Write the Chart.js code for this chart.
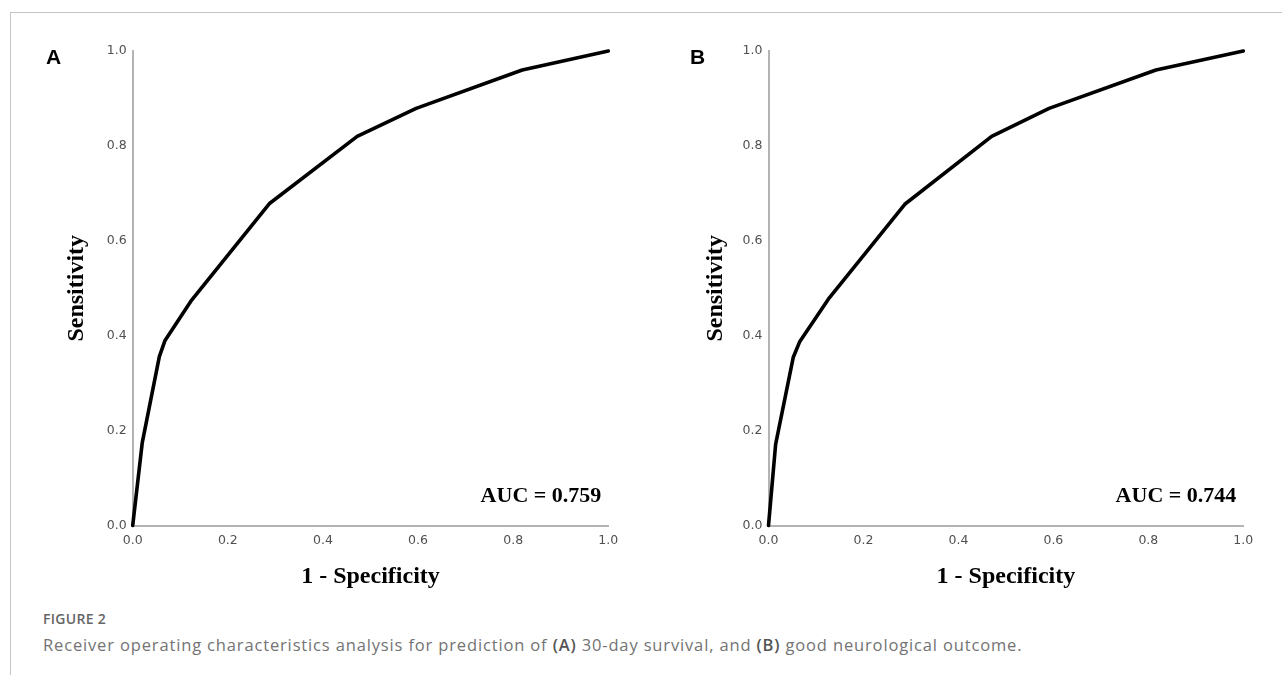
<!DOCTYPE html>
<html>
<head>
<meta charset="utf-8">
<script src="https://cdn.jsdelivr.net/npm/chart.js@4.4.1/dist/chart.umd.min.js"></script>
<style>
  html, body { margin: 0; padding: 0; background: #fff; }
  body { width: 1282px; height: 675px; position: relative; overflow: hidden; }
  .frame-top { position: absolute; left: 10px; top: 12px; width: 1272px; height: 1px; background: #c4c4c4; }
  .frame-left { position: absolute; left: 10px; top: 12px; width: 1px; height: 663px; background: #c4c4c4; }
  .wrap { position: absolute; top: 0; width: 640px; height: 600px; }
  .panel { position: absolute; top: 46px; font: bold 21px "Liberation Sans", Arial, sans-serif; line-height: 1; color: #000; }
  .figlabel { position: absolute; left: 43px; top: 612px; font: 600 14px "Open Sans", sans-serif; line-height: 1; color: #666; letter-spacing: 0.3px; }
  .caption { position: absolute; left: 43px; top: 637px; font: 16.5px "Open Sans", sans-serif; line-height: 1; color: #737373; white-space: nowrap; letter-spacing: 0.85px; }
  .caption b { font-weight: 600; color: #555; }
</style>
</head>
<body>
<div class="frame-top"></div>
<div class="frame-left"></div>
<div class="wrap" style="left:0px"><canvas id="chartA" width="640" height="600"></canvas></div>
<div class="wrap" style="left:640px"><canvas id="chartB" width="640" height="600"></canvas></div>
<div class="panel" style="left:46px">A</div>
<div class="panel" style="left:690px">B</div>
<div class="figlabel">FIGURE 2</div>
<div class="caption">Receiver operating characteristics analysis for prediction of <b>(A)</b> 30-day survival, and <b>(B)</b> good neurological outcome.</div>
<script>
// ---- data ----
const fprA = [0, 0.02, 0.056, 0.068, 0.124, 0.287, 0.472, 0.596, 0.819, 1.0];
const tprA = [0, 0.174, 0.356, 0.39, 0.475, 0.678, 0.820, 0.879, 0.960, 1.0];
const fprB = [0, 0.015, 0.052, 0.066, 0.126, 0.287, 0.470, 0.591, 0.816, 1.0];
const tprB = [0, 0.171, 0.354, 0.388, 0.477, 0.677, 0.820, 0.879, 0.960, 1.0];
const aucA = "AUC = 0.759";
const aucB = "AUC = 0.744";
const xTicks = [0, 0.2, 0.4, 0.6, 0.8, 1.0];
const yTicks = [0, 0.2, 0.4, 0.6, 0.8, 1.0];
const xTitle = "1 - Specificity";
const yTitle = "Sensitivity";

const aucPlugin = {
  id: 'aucText',
  afterDraw(chart, args, opts) {
    const { ctx, chartArea } = chart;
    ctx.save();
    ctx.font = 'bold 22px "Liberation Serif", "Times New Roman", serif';
    ctx.fillStyle = '#000';
    ctx.textAlign = 'right';
    ctx.textBaseline = 'middle';
    ctx.fillText(opts.text, chartArea.right - 7, chartArea.bottom - 29);
    ctx.restore();
  }
};

function makeChart(id, xs, ys, auc, g) {
  const pts = xs.map((x, i) => ({ x: x, y: ys[i] }));
  const tickFont = { family: 'DejaVu Sans', size: 12.5 };
  return new Chart(document.getElementById(id), {
    type: 'scatter',
    data: {
      datasets: [{
        data: pts,
        showLine: true,
        borderColor: '#000',
        borderWidth: 3.6,
        pointRadius: 0,
        tension: 0,
        borderCapStyle: 'round',
        borderJoinStyle: 'round',
        clip: false
      }]
    },
    options: {
      responsive: false,
      animation: false,
      devicePixelRatio: 1,
      layout: { padding: { left: g.padLeft, right: g.padRight, top: 51, bottom: 0 } },
      plugins: {
        legend: { display: false },
        tooltip: { enabled: false },
        aucText: { text: auc }
      },
      scales: {
        x: {
          type: 'linear',
          min: 0, max: 1,
          afterBuildTicks: s => { s.ticks = xTicks.map(v => ({ value: v })); },
          afterFit: s => { s.height = 74.5; },
          grid: { display: false, drawTicks: false },
          border: { display: true, color: '#b3b3b3', width: 2 },
          ticks: { color: '#505050', font: tickFont, padding: 8, maxRotation: 0,
                   callback: v => Number(v).toFixed(1) },
          title: { display: true, text: xTitle, color: '#000',
                   font: { family: '"Liberation Serif", "Times New Roman", serif', size: 24, weight: 'bold' },
                   padding: { top: 0, bottom: 8.5 } }
        },
        y: {
          type: 'linear',
          min: 0, max: 1,
          afterBuildTicks: s => { s.ticks = yTicks.map(v => ({ value: v })); },
          afterFit: s => { s.width = g.yWidth; },
          grid: { display: false, drawTicks: false },
          border: { display: true, color: '#b3b3b3', width: 2 },
          ticks: { color: '#505050', font: tickFont, padding: 6,
                   callback: v => Number(v).toFixed(1) },
          title: { display: true, text: yTitle, color: '#000',
                   font: { family: '"Liberation Serif", "Times New Roman", serif', size: 24, weight: 'bold' },
                   padding: { top: g.titlePad, bottom: 0 } }
        }
      }
    },
    plugins: [aucPlugin]
  });
}

makeChart('chartA', fprA, tprA, aucA, { padLeft: 50, yWidth: 82.7, padRight: 31.7, titlePad: 12.6 });
makeChart('chartB', fprB, tprB, aucB, { padLeft: 50, yWidth: 78.5, padRight: 36.7, titlePad: 11.4 });
</script>
</body>
</html>
